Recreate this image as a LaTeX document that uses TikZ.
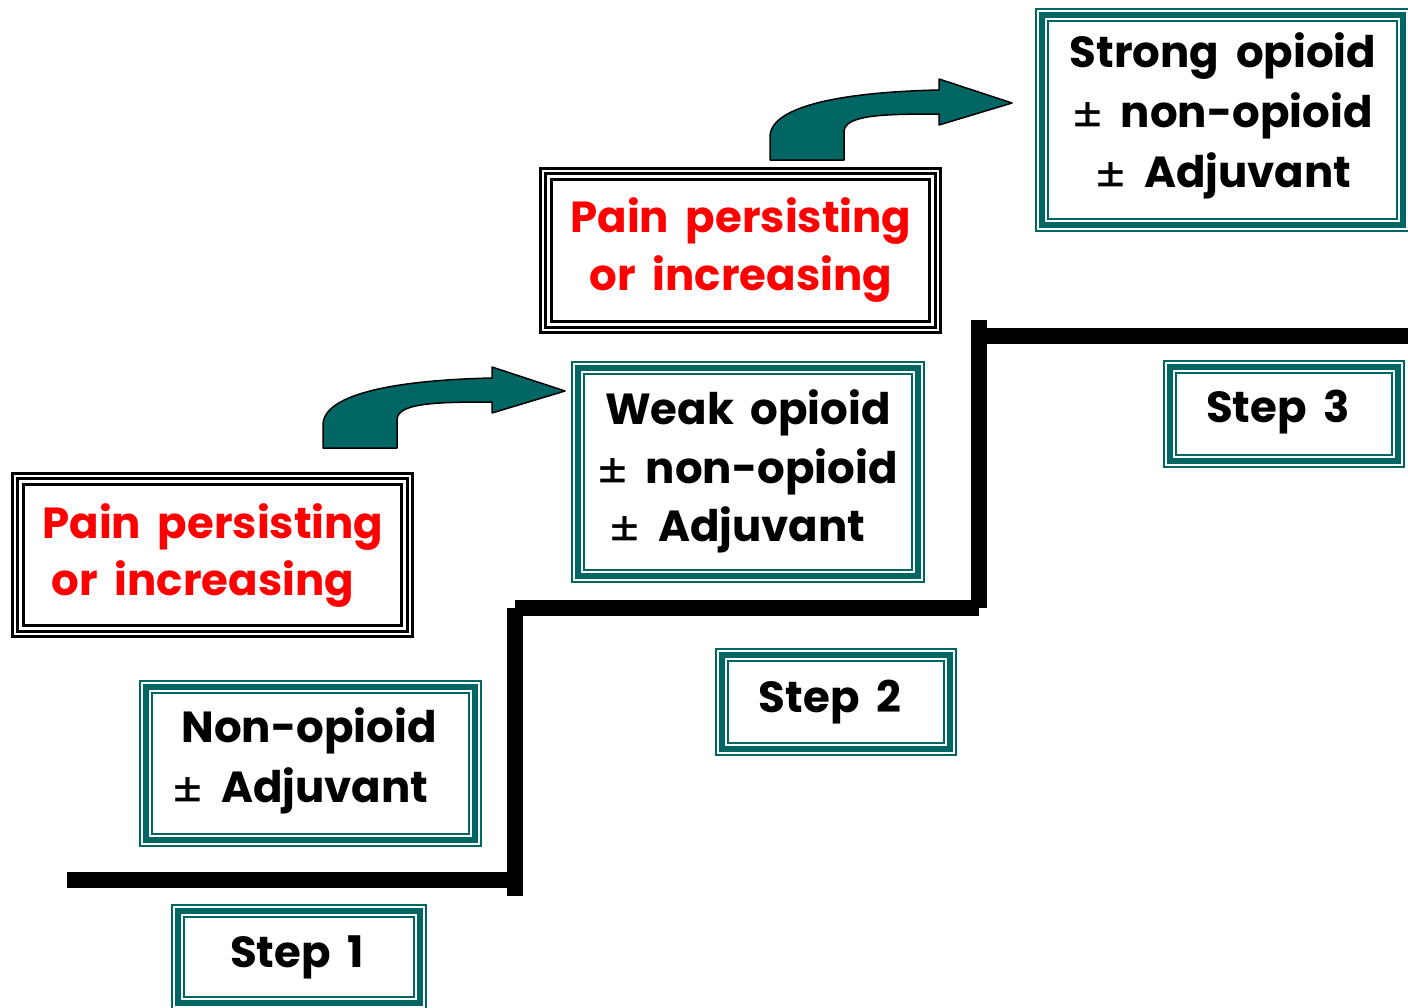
\documentclass[tikz,border=0pt]{standalone}
\usepackage{fontspec}
\setmainfont{Poppins}[WordSpace=1.8]
\usetikzlibrary{calc}
\definecolor{tealc}{RGB}{0,102,100}
\newcommand\pmsign{\raisebox{-5pt}{\mdseries\fontsize{48}{50}\selectfont ±}}
\newcommand\tealfr[5]{%
  \node[inner sep=0pt, minimum width={#4-#2}, minimum height={#5-#3}] (#1) at ({(#2+#4)/2},{(#3+#5)/2}) {};
  \draw[tealc, line width=2.3pt] ([shift={(1.15,1.15)}]#1.north west) rectangle ([shift={(-1.15,-1.15)}]#1.south east);
  \draw[tealc, line width=5.8pt] ([shift={(7.4,7.4)}]#1.north west) rectangle ([shift={(-7.4,-7.4)}]#1.south east);
  \draw[tealc, line width=2.4pt] ([shift={(13.4,13.4)}]#1.north west) rectangle ([shift={(-13.4,-13.4)}]#1.south east);
}
\newcommand\blackfr[5]{%
  \node[inner sep=0pt, minimum width={#4-#2}, minimum height={#5-#3}] (#1) at ({(#2+#4)/2},{(#3+#5)/2}) {};
  \draw[black, line width=3.5pt] ([shift={(1.75,1.75)}]#1.north west) rectangle ([shift={(-1.75,-1.75)}]#1.south east);
  \draw[black, line width=2.5pt] ([shift={(6.75,6.75)}]#1.north west) rectangle ([shift={(-6.75,-6.75)}]#1.south east);
  \draw[black, line width=2.5pt] ([shift={(12.75,12.75)}]#1.north west) rectangle ([shift={(-12.75,-12.75)}]#1.south east);
}
\newcommand\bentarrow[2]{%
  \begin{scope}[shift={(#1,#2)}]
    \draw[arrowshape] (323,448) -- (323,425) .. controls (323,393) and (400,380) .. (492,378)
      -- (492,367) -- (565,391) -- (492,413) -- (492,402)
      .. controls (435,402) and (397,403) .. (397,420) -- (397,448) -- cycle;
  \end{scope}}
\begin{document}
\begin{tikzpicture}[x=1pt,y=-1pt,
  txt/.style={font=\fontsize{43.5}{50}\selectfont\bfseries, inner sep=0pt, anchor=base},
  redtxt/.style={txt, text=red},
  stair/.style={line width=16pt, line cap=butt},
  arrowshape/.style={fill=tealc, draw=black, line width=1.5pt, line join=round}]
\useasboundingbox (0,0) rectangle (1408,1007);
\fill[white] (0,0) rectangle (1408,1007);
% staircase
\draw[stair] (67,880) -- (515,880);
\draw[stair] (515,896) -- (515,608);
\draw[stair] (515,608) -- (979,608);
\draw[stair] (979,608) -- (979,320);
\draw[stair] (979,336) -- (1408,336);
% boxes
\tealfr{step1}{171}{904}{427}{1010}
\tealfr{nonop}{139}{680}{482}{847}
\blackfr{pain1}{11}{472}{414}{638}
\tealfr{weak}{571}{361}{925}{583}
\tealfr{step2}{715}{648}{957}{756}
\blackfr{pain2}{539}{167}{942}{334}
\tealfr{strong}{1035}{8}{1410}{232}
\tealfr{step3}{1163}{360}{1405}{468}
% arrows
\bentarrow{0}{0}
\bentarrow{447}{-288}
% texts
\node[txt] (s1) at (297,967) {Step 1};
\node[txt] (s2) at (830,712) {Step 2};
\node[txt] (s3) at (1278,422) {Step 3};
\node[txt] (n1) at (309,742) {Non-opioid};
\node[txt] (n2) at (300,802) {\pmsign{} Adjuvant};
\node[redtxt] (p1a) at (213,538) {Pain persisting};
\node[redtxt] (p1b) at (203,595) {or increasing};
\node[redtxt] (p2a) at (741,232) {Pain persisting};
\node[redtxt] (p2b) at (741,290) {or increasing};
\node[txt] (w1) at (748,424) {Weak opioid};
\node[txt] (w2) at (747,483) {\pmsign{} non-opioid};
\node[txt] (w3) at (737,541) {\pmsign{} Adjuvant};
\node[txt] (t1) at (1223,67) {Strong opioid};
\node[txt] (t2) at (1222,127) {\pmsign{} non-opioid};
\node[txt] (t3) at (1223,187) {\pmsign{} Adjuvant};
\end{tikzpicture}
\end{document}
